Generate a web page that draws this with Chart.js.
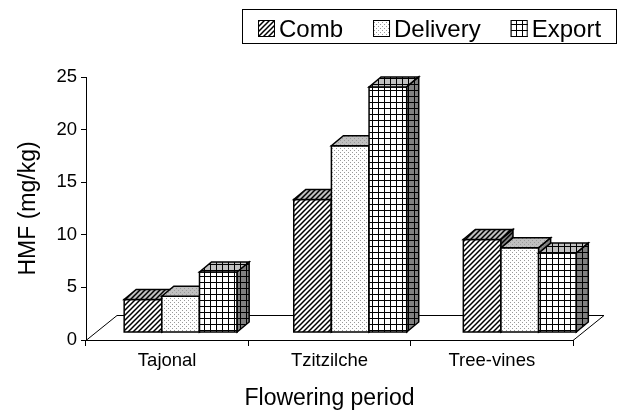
<!DOCTYPE html>
<html>
<head>
<meta charset="utf-8">
<script src="https://cdn.jsdelivr.net/npm/chart.js@4.4.0/dist/chart.umd.min.js"></script>
<style>
  html, body { margin: 0; padding: 0; background: #fff; }
</style>
</head>
<body>
<canvas id="chart" width="626" height="412"></canvas>
<script>
const categories = ["Tajonal", "Tzitzilche", "Tree-vines"];
const seriesNames = ["Comb", "Delivery", "Export"];
const combValues = [3.1, 12.6, 8.8];
const deliveryValues = [3.4, 17.7, 8.0];
const exportValues = [5.7, 23.3, 7.5];
const yTicks = [0, 5, 10, 15, 20, 25];

const FONT = "Arial, 'Liberation Sans', Helvetica, sans-serif";

// fill patterns like the old excel ones
function makePattern(kind, bg) {
  const c = document.createElement("canvas");
  const g = c.getContext("2d");
  const n = kind === "dots" ? 4 : kind === "grid" ? 6 : 5;
  c.width = c.height = n;
  g.fillStyle = bg;
  g.fillRect(0, 0, n, n);
  if (kind === "hatch") {
    g.strokeStyle = "#000";
    g.lineWidth = 1.5;
    g.beginPath();
    g.moveTo(-1, n + 1); g.lineTo(n + 1, -1);
    g.moveTo(-1, 1); g.lineTo(1, -1);
    g.moveTo(n - 1, n + 1); g.lineTo(n + 1, n - 1);
    g.stroke();
  } else if (kind === "dots") {
    g.fillStyle = "#999999";
    g.fillRect(0, 0, 1, 1);
    g.fillRect(2, 2, 1, 1);
  } else {
    g.fillStyle = "#000";
    g.fillRect(0, 0, n, 1);
    g.fillRect(0, 0, 1, n);
  }
  return g.createPattern(c, "repeat");
}

const kinds = ["hatch", "dots", "grid"];
const frontFill = kinds.map(k => makePattern(k, "#ffffff"));
const topFill = kinds.map(k => makePattern(k, "#c0c0c0"));
const sideFill = kinds.map(k => makePattern(k, "#808080"));

// projection of the 3d look
const FLOOR_DX = 31, FLOOR_DY = 25;
const BAR_SHIFT = 13.5, BAR_SPREAD = 0.0446, BAR_LIFT = 8;
const DEPTH_DX = 12, DEPTH_DY = 10;
const BAR_FRAC = 0.232;

function face(ctx, pts, fill) {
  ctx.beginPath();
  ctx.moveTo(pts[0][0], pts[0][1]);
  for (let k = 1; k < pts.length; k++) ctx.lineTo(pts[k][0], pts[k][1]);
  ctx.closePath();
  ctx.fillStyle = fill;
  ctx.fill();
  ctx.stroke();
}

const bars3d = {
  id: "bars3d",
  beforeDatasetsDraw(chart) {
    const ctx = chart.ctx;
    const xs = chart.scales.x, ys = chart.scales.y;
    const y0 = ys.getPixelForValue(0);

    // floor
    ctx.save();
    ctx.strokeStyle = "#000";
    ctx.lineWidth = 1;
    ctx.beginPath();
    ctx.moveTo(xs.left, y0 + 0.5);
    ctx.lineTo(xs.left + FLOOR_DX, y0 - FLOOR_DY + 0.5);
    ctx.lineTo(xs.right + FLOOR_DX, y0 - FLOOR_DY + 0.5);
    ctx.lineTo(xs.right, y0 + 0.5);
    ctx.stroke();
    ctx.restore();

    const c0 = xs.getPixelForValue(0);
    const catW = xs.getPixelForValue(1) - c0;
    const barW = catW * BAR_FRAC;

    ctx.save();
    ctx.strokeStyle = "#000";
    ctx.lineWidth = 1.5;
    ctx.lineJoin = "miter";
    categories.forEach((cat, i) => {
      const c = xs.getPixelForValue(i);
      const gc = c + BAR_SHIFT + (c - c0) * BAR_SPREAD;
      const left = gc - barW * chart.data.datasets.length / 2;
      chart.data.datasets.forEach((ds, j) => {
        const x0 = left + j * barW, x1 = x0 + barW;
        const yb = y0 - BAR_LIFT;
        const yt = ys.getPixelForValue(ds.data[i]) - BAR_LIFT;
        face(ctx, [[x0, yb], [x1, yb], [x1, yt], [x0, yt]], frontFill[j]);
        face(ctx, [[x0, yt], [x1, yt], [x1 + DEPTH_DX, yt - DEPTH_DY], [x0 + DEPTH_DX, yt - DEPTH_DY]], topFill[j]);
        face(ctx, [[x1, yb], [x1 + DEPTH_DX, yb - DEPTH_DY], [x1 + DEPTH_DX, yt - DEPTH_DY], [x1, yt]], sideFill[j]);
      });
    });
    ctx.restore();
    return false;
  },
  afterDraw(chart) {
    const ctx = chart.ctx;
    ctx.save();
    ctx.strokeStyle = "#000";
    ctx.lineWidth = 1;
    ctx.strokeRect(242.5, 9.5, 374, 34);
    ctx.font = "24px " + FONT;
    ctx.textBaseline = "alphabetic";
    let x = 258;
    chart.data.datasets.forEach((ds, j) => {
      ctx.fillStyle = ds.backgroundColor;
      ctx.fillRect(x, 20, 17, 17);
      ctx.strokeRect(x + 0.5, 20.5, 16, 16);
      ctx.fillStyle = "#000";
      ctx.fillText(ds.label, x + 21, 37);
      x += 21 + ctx.measureText(ds.label).width + 30;
    });
    ctx.restore();
  }
};

new Chart(document.getElementById("chart"), {
  type: "bar",
  data: {
    labels: categories,
    datasets: [
      { label: seriesNames[0], data: combValues, backgroundColor: frontFill[0] },
      { label: seriesNames[1], data: deliveryValues, backgroundColor: frontFill[1] },
      { label: seriesNames[2], data: exportValues, backgroundColor: frontFill[2] },
    ],
  },
  options: {
    responsive: false,
    animation: false,
    layout: { padding: { top: 77, right: 53, bottom: 0, left: 0 } },
    plugins: {
      legend: { display: false },
      tooltip: { enabled: false },
    },
    scales: {
      x: {
        offset: true,
        ticks: { color: "#000", font: { family: FONT, size: 18.5 }, padding: 4 },
        grid: { offset: true, drawOnChartArea: false, tickLength: 6, color: "#000" },
        border: { color: "#000" },
        title: {
          display: true, text: "Flowering period", color: "#000",
          font: { family: FONT, size: 23 }, padding: { top: 0, bottom: 0 },
        },
        afterFit(s) { s.height = 72; },
      },
      y: {
        min: 0,
        max: 25,
        afterBuildTicks(s) { s.ticks = yTicks.map(v => ({ value: v })); },
        ticks: { color: "#000", font: { family: FONT, size: 18.5 }, padding: 4 },
        grid: { drawOnChartArea: false, tickLength: 5, color: "#000" },
        border: { color: "#000" },
        title: {
          display: true, text: "HMF (mg/kg)", color: "#000",
          font: { family: FONT, size: 23 }, padding: { top: 15, bottom: 0 },
        },
        afterFit(s) { s.width = 86; },
      },
    },
  },
  plugins: [bars3d],
});
</script>
</body>
</html>
